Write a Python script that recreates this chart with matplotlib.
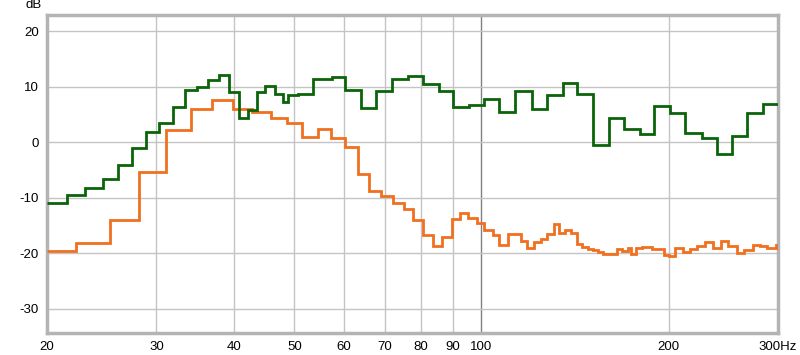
import matplotlib.pyplot as plt
from matplotlib.ticker import FixedLocator, NullLocator

# Frequency response, stepped (Hz edges, dB levels)
green_edges = [20, 21.5, 23.0, 24.6, 26.0, 27.4, 28.9, 30.3, 31.9, 33.3, 34.8, 36.3,
               37.8, 39.2, 40.7, 42.1, 43.5, 44.9, 46.5, 47.9, 48.9, 50.7, 53.6, 57.4,
               60.4, 63.9, 67.7, 71.9, 76.1, 80.6, 85.5, 90.1, 95.4, 101.1, 106.9, 113.3,
               120.5, 127.4, 135.1, 142.7, 151.0, 160.2, 169.6, 179.9, 189.5, 201.1,
               212.6, 226.2, 239.2, 252.9, 267.9, 284.2, 300]
green_db = [-11.0, -9.6, -8.2, -6.7, -4.2, -1.0, 1.8, 3.5, 6.4, 9.4, 9.9, 11.2,
            12.1, 9.0, 4.4, 5.8, 9.1, 10.1, 8.6, 7.3, 8.4, 8.7, 11.4, 11.7,
            9.4, 6.2, 9.2, 11.4, 11.9, 10.4, 9.2, 6.3, 6.7, 7.7, 5.4, 9.2,
            6.0, 8.4, 10.7, 8.6, -0.6, 4.4, 2.4, 1.4, 6.5, 5.3,
            1.7, 0.8, -2.2, 1.1, 5.3, 6.9]

orange_edges = [20, 22.3, 25.3, 28.1, 31.1, 34.1, 36.9, 39.8, 42.7, 45.8, 48.6, 51.5,
                54.5, 57.3, 60.4, 63.2, 66.0, 69.0, 72.0, 75.0, 77.7, 80.6, 83.7, 86.5,
                89.6, 92.5, 95.3, 98.3, 101.0, 104.2, 106.9, 110.4, 115.9, 118.5, 121.6,
                124.6, 127.4, 130.8, 133.3, 136.3, 139.2, 142.7, 145.3, 148.6, 151.4,
                154.2, 157.1, 160.0, 165.4, 168.5, 171.9, 174.0, 177.3, 181.1, 187.9,
                191.9, 196.9, 200.6, 204.9, 211.3, 216.6, 222.5, 229.0, 235.7, 242.7,
                249.7, 257.6, 264.6, 273.3, 280.8, 288.4, 297.5, 300]
orange_db = [-19.6, -18.1, -14.1, -5.4, 2.2, 6.0, 7.6, 6.0, 5.4, 4.3, 3.5, 1.0,
             2.4, 0.8, -0.8, -5.8, -8.8, -9.8, -10.9, -12.0, -14.0, -16.8, -18.8, -17.1,
             -13.9, -12.7, -13.6, -14.5, -15.9, -16.7, -18.5, -16.5, -17.8, -19.0, -18.0,
             -17.5, -16.6, -14.8, -16.3, -15.9, -16.3, -18.3, -18.9, -19.2, -19.5,
             -19.8, -20.1, -20.2, -19.3, -19.6, -19.1, -20.2, -19.0, -18.9, -19.3,
             -19.2, -20.4, -20.5, -19.0, -19.8, -19.3, -18.7, -18.0, -19.0, -17.8,
             -18.7, -19.9, -19.5, -18.6, -18.7, -19.0, -18.6]

x_ticks = [20, 30, 40, 50, 60, 70, 80, 90, 100, 200, 300]
x_labels = ["20", "30", "40", "50", "60", "70", "80", "90", "100", "200", "300Hz"]
y_ticks = [-30, -20, -10, 0, 10, 20]

plt.rcParams["font.family"] = ["Liberation Sans", "DejaVu Sans"]
plt.rcParams["axes.unicode_minus"] = False

fig = plt.figure(figsize=(8, 3.55), dpi=100)
ax = fig.add_axes([47 / 800, 1 - 333 / 355, 731 / 800, 318 / 355])

ax.set_xscale("log")
ax.set_xlim(20, 300)
ax.set_ylim(-34.4, 22.9)

# grid
for f in x_ticks[1:-1]:
    ax.axvline(f, color="#808080" if f == 100 else "#c4c4c4", lw=1, zorder=1)
for d in y_ticks:
    ax.axhline(d, color="#c4c4c4", lw=1, zorder=1)

ax.stairs(orange_db, orange_edges, baseline=None, color="#f07020", lw=2, zorder=3)
ax.stairs(green_db, green_edges, baseline=None, color="#0a640a", lw=2, zorder=4)

ax.xaxis.set_major_locator(FixedLocator(x_ticks))
ax.xaxis.set_minor_locator(NullLocator())
ax.set_xticklabels(x_labels)
ax.set_yticks(y_ticks)
ax.tick_params(length=0, labelsize=9.5, colors="#000000")
ax.tick_params(axis="x", pad=6)
ax.tick_params(axis="y", pad=6)

for s in ax.spines.values():
    s.set_color("#b4b4b4")
    s.set_linewidth(2.5)

fig.text(42 / 800, 1 - 5 / 355, "dB", ha="right", va="center", fontsize=9.5)

fig.savefig("out.png", dpi=100)
